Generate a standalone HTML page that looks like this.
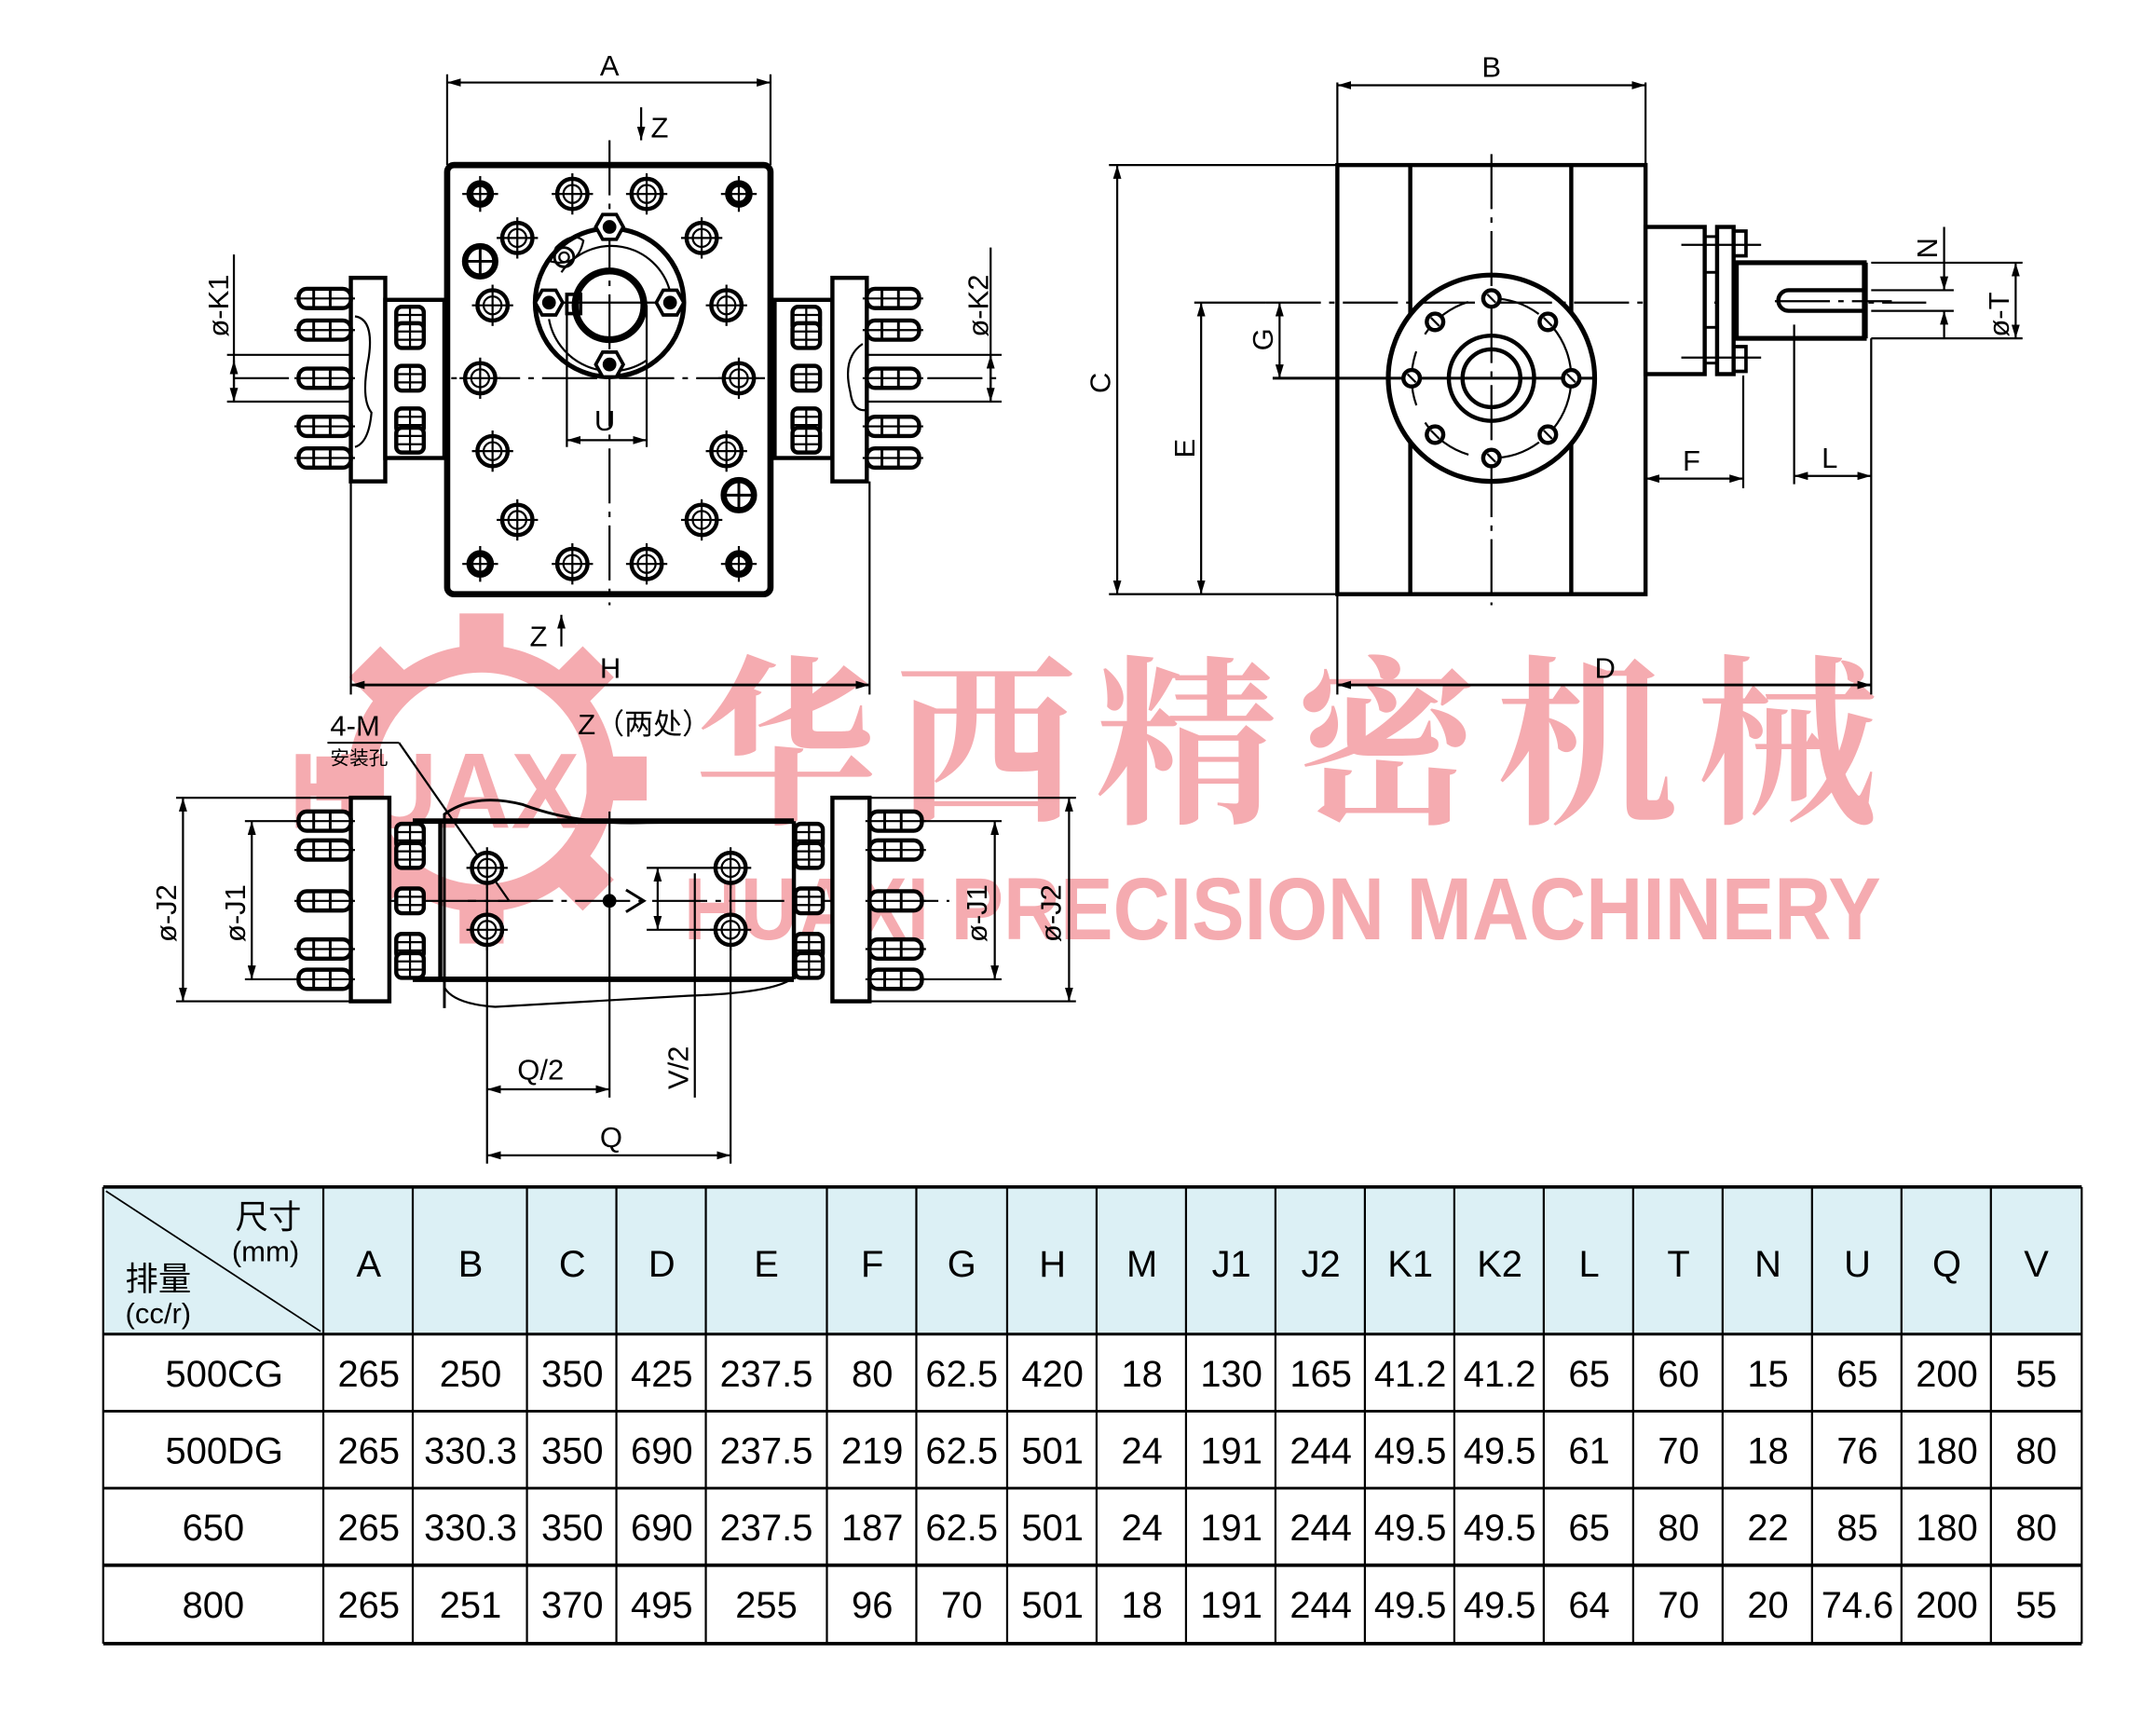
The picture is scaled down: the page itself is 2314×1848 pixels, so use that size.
<!DOCTYPE html>
<html><head><meta charset="utf-8"><style>
html,body{margin:0;padding:0;background:#fff}
svg{display:block}
text{font-family:"Liberation Sans","Noto Sans CJK SC",sans-serif}
</style></head><body>
<svg width="2314" height="1848" viewBox="0 0 1567 1252" preserveAspectRatio="none" xmlns="http://www.w3.org/2000/svg">
<defs>
<marker id="ar" viewBox="0 0 10 6" refX="10" refY="3" markerWidth="10" markerHeight="6" orient="auto-start-reverse" markerUnits="userSpaceOnUse"><path d="M0,0 L10,3 L0,6z" fill="#000"/></marker>
<g id="bh"><rect x="-19" y="-7" width="38" height="14" rx="6" fill="#fff" stroke="#000" stroke-width="3"/><line x1="-8" y1="-7" x2="-8" y2="7" stroke="#000" stroke-width="2"/><line x1="4" y1="-7" x2="4" y2="7" stroke="#000" stroke-width="2"/><line x1="-22" y1="0" x2="22" y2="0" stroke="#000" stroke-width="1.5"/></g>
<g id="sb"><rect x="-10" y="-9" width="20" height="18" rx="4" fill="#fff" stroke="#000" stroke-width="3"/><line x1="-10" y1="-3" x2="10" y2="-3" stroke="#000" stroke-width="1.5"/><line x1="-10" y1="3" x2="10" y2="3" stroke="#000" stroke-width="1.5"/><line x1="0" y1="-9" x2="0" y2="9" stroke="#000" stroke-width="1.5"/></g>
<g id="bt"><circle r="11" fill="#fff" stroke="#000" stroke-width="3"/><circle r="6.5" fill="none" stroke="#000" stroke-width="1.5"/><line x1="-15" y1="0" x2="15" y2="0" stroke="#000" stroke-width="1.5"/><line x1="0" y1="-15" x2="0" y2="15" stroke="#000" stroke-width="1.5"/></g>
<g id="bf"><circle r="10" fill="#000"/><circle r="5" fill="#fff"/><line x1="-13" y1="0" x2="13" y2="0" stroke="#000" stroke-width="1.5"/><line x1="0" y1="-13" x2="0" y2="13" stroke="#000" stroke-width="1.5"/></g>
<g id="bk"><circle r="11" fill="#fff" stroke="#000" stroke-width="4.5"/><line x1="-11" y1="0" x2="11" y2="0" stroke="#000" stroke-width="2"/><line x1="0" y1="-11" x2="0" y2="11" stroke="#000" stroke-width="2"/></g>
<g id="hx"><polygon points="-10,0 -5,-9 5,-9 10,0 5,9 -5,9" fill="#fff" stroke="#000" stroke-width="2.5"/><circle r="5" fill="#000"/></g>
<g id="sh"><circle r="6" fill="#fff" stroke="#000" stroke-width="3"/><line x1="-3" y1="-3" x2="3" y2="3" stroke="#000" stroke-width="1.5"/></g>
</defs>

<!-- ===== watermark ===== -->
<g fill="#f4a3a8" opacity="0.9">
  <g transform="translate(350,566)">
    <circle r="87" fill="none" stroke="#f4a3a8" stroke-width="20"/>
    <g>
      <rect x="-16" y="-120" width="32" height="30"/>
      <rect x="-16" y="-120" width="32" height="30" transform="rotate(45)"/>
      <rect x="-16" y="-120" width="32" height="30" transform="rotate(90)"/>
      <rect x="-16" y="-120" width="32" height="30" transform="rotate(135)"/>
      <rect x="-16" y="-120" width="32" height="30" transform="rotate(180)"/>
      <rect x="-16" y="-120" width="32" height="30" transform="rotate(225)"/>
      <rect x="-16" y="-120" width="32" height="30" transform="rotate(270)"/>
      <rect x="-16" y="-120" width="32" height="30" transform="rotate(315)"/>
    </g>
  </g>
  <text x="210" y="602" font-size="78" font-weight="bold" textLength="232" lengthAdjust="spacingAndGlyphs">HUAXI</text>
  <text x="505" y="588" font-size="132" font-weight="bold" textLength="860" lengthAdjust="spacing" style="font-family:'Noto Serif CJK SC',serif">华西精密机械</text>
  <text x="497" y="683" font-size="64" font-weight="bold" textLength="870" lengthAdjust="spacingAndGlyphs">HUAXI PRECISION MACHINERY</text>
</g>

<g stroke="#000" fill="none" stroke-width="1.5">
<!-- ===== FRONT VIEW ===== -->
<rect x="325" y="120" width="235" height="312" rx="5" stroke-width="4.5" fill="none"/>
<line x1="443" y1="102" x2="443" y2="440" stroke-dasharray="40,6,4,6"/>
<line x1="170" y1="275" x2="725" y2="275" stroke-dasharray="40,6,4,6"/>
<line x1="325" y1="54" x2="325" y2="120"/><line x1="560" y1="54" x2="560" y2="120"/>
<line x1="325" y1="60" x2="560" y2="60" marker-start="url(#ar)" marker-end="url(#ar)"/>
<line x1="466" y1="78" x2="466" y2="102" marker-end="url(#ar)"/>
<line x1="408" y1="470" x2="408" y2="447" marker-end="url(#ar)"/>
<circle cx="443" cy="220" r="54" stroke-width="3.5"/>
<path d="M408,198 A44,44 0 0 1 487,212" stroke-width="1.5"/>
<path d="M399,232 A46,46 0 0 0 470,262" stroke-width="1.5"/>
<circle cx="443" cy="222" r="25" stroke-width="5"/>
<path d="M400,190 Q420,195 424,175 Q416,168 404,180 Z" stroke-width="1.5"/>
<circle cx="410" cy="187" r="7" stroke-width="2"/><circle cx="410" cy="187" r="3.5" stroke-width="1.5"/>
<rect x="412" y="214" width="10" height="14" stroke-width="2.5"/>
<line x1="412" y1="222" x2="412" y2="325"/><line x1="470" y1="222" x2="470" y2="325"/>
<line x1="412" y1="320" x2="470" y2="320" marker-start="url(#ar)" marker-end="url(#ar)"/>
<line x1="395" y1="220" x2="492" y2="220"/>
<line x1="255" y1="350" x2="255" y2="505"/><line x1="632" y1="350" x2="632" y2="505"/>
<line x1="255" y1="498" x2="632" y2="498" marker-start="url(#ar)" marker-end="url(#ar)" stroke-width="2"/>
<line x1="165" y1="258" x2="260" y2="258"/><line x1="165" y1="292" x2="260" y2="292"/>
<line x1="170" y1="185" x2="170" y2="292"/>
<line x1="170" y1="262" x2="170" y2="292" marker-start="url(#ar)" marker-end="url(#ar)"/>
<line x1="628" y1="258" x2="728" y2="258"/><line x1="628" y1="292" x2="728" y2="292"/>
<line x1="720" y1="180" x2="720" y2="292"/>
<line x1="720" y1="258" x2="720" y2="292" marker-start="url(#ar)" marker-end="url(#ar)"/>
<rect x="255" y="202" width="25" height="148" stroke-width="3" fill="#fff"/>
<rect x="280" y="218" width="43" height="115" stroke-width="3" fill="#fff"/>
<rect x="563" y="218" width="42" height="115" stroke-width="3" fill="#fff"/>
<rect x="605" y="202" width="25" height="148" stroke-width="3" fill="#fff"/>
<path d="M258,230 Q272,232 268,260 Q262,290 270,300 Q268,322 258,325"/>
<path d="M627,250 Q612,260 618,285 Q620,300 630,298"/>
</g>
<g>
<use href="#bh" x="236" y="217"/><use href="#bh" x="236" y="240"/><use href="#bh" x="236" y="275"/><use href="#bh" x="236" y="310"/><use href="#bh" x="236" y="333"/>
<use href="#bh" x="649" y="217"/><use href="#bh" x="649" y="240"/><use href="#bh" x="649" y="275"/><use href="#bh" x="649" y="310"/><use href="#bh" x="649" y="333"/>
<use href="#sb" x="298" y="232"/><use href="#sb" x="298" y="244"/><use href="#sb" x="298" y="275"/><use href="#sb" x="298" y="306"/><use href="#sb" x="298" y="320"/>
<use href="#sb" x="586" y="232"/><use href="#sb" x="586" y="244"/><use href="#sb" x="586" y="275"/><use href="#sb" x="586" y="306"/><use href="#sb" x="586" y="320"/>
<use href="#bf" x="349" y="141"/><use href="#bt" x="416" y="141"/><use href="#bt" x="470" y="141"/><use href="#bf" x="537" y="141"/>
<use href="#bt" x="376" y="173"/><use href="#bt" x="510" y="173"/>
<use href="#bk" x="349" y="190"/>
<use href="#bt" x="358" y="222"/><use href="#bt" x="528" y="222"/>
<use href="#bt" x="349" y="275"/><use href="#bt" x="537" y="275"/>
<use href="#bt" x="358" y="328"/><use href="#bt" x="528" y="328"/>
<use href="#bk" x="537" y="360"/>
<use href="#bt" x="376" y="378"/><use href="#bt" x="510" y="378"/>
<use href="#bf" x="349" y="410"/><use href="#bt" x="416" y="410"/><use href="#bt" x="470" y="410"/><use href="#bf" x="537" y="410"/>
<use href="#hx" x="443" y="165"/><use href="#hx" x="399" y="220"/><use href="#hx" x="487" y="220"/><use href="#hx" x="443" y="265"/>
</g>

<!-- ===== SIDE VIEW ===== -->
<g stroke="#000" fill="none" stroke-width="1.5">
<rect x="972" y="120" width="224" height="312" stroke-width="3"/>
<line x1="1025" y1="120" x2="1025" y2="432" stroke-width="3"/>
<line x1="1142" y1="120" x2="1142" y2="432" stroke-width="3"/>
<circle cx="1084" cy="275" r="75" stroke-width="3.5" fill="#fff"/>
<circle cx="1084" cy="275" r="58" stroke-dasharray="40,14"/>
<circle cx="1084" cy="275" r="31" stroke-width="3"/>
<circle cx="1084" cy="275" r="21" stroke-width="3"/>
<line x1="1084" y1="112" x2="1084" y2="440" stroke-dasharray="40,6,4,6"/>
<line x1="920" y1="220" x2="1400" y2="220" stroke-dasharray="40,6,4,6"/>
<line x1="925" y1="275" x2="1160" y2="275" stroke-width="2"/>
<rect x="1196" y="165" width="43" height="107" stroke-width="3" fill="#fff"/>
<rect x="1248" y="165" width="12" height="107" stroke-width="3" fill="#fff"/>
<rect x="1239" y="172" width="9" height="26" stroke-width="2"/>
<rect x="1239" y="238" width="9" height="26" stroke-width="2"/>
<rect x="1260" y="168" width="9" height="18" stroke-width="2.5"/>
<rect x="1260" y="252" width="9" height="18" stroke-width="2.5"/>
<line x1="1222" y1="178" x2="1280" y2="178"/><line x1="1222" y1="260" x2="1280" y2="260"/>
<rect x="1262" y="191" width="93" height="55" stroke-width="3.5" fill="#fff"/>
<line x1="1356" y1="191" x2="1356" y2="246" stroke-width="3"/>
<path d="M1356,211 L1300,211 A7.5,7.5 0 0 0 1300,226 L1356,226" stroke-width="3"/>
<line x1="1290" y1="219" x2="1375" y2="219" stroke-dasharray="40,6,4,6"/>
<line x1="806" y1="120" x2="972" y2="120"/><line x1="806" y1="432" x2="972" y2="432"/>
<line x1="812" y1="120" x2="812" y2="432" marker-start="url(#ar)" marker-end="url(#ar)"/>
<line x1="868" y1="220" x2="920" y2="220"/>
<line x1="873" y1="220" x2="873" y2="432" marker-start="url(#ar)" marker-end="url(#ar)"/>
<line x1="925" y1="275" x2="930" y2="275"/>
<line x1="930" y1="220" x2="930" y2="275" marker-start="url(#ar)" marker-end="url(#ar)"/>
<line x1="1267" y1="273" x2="1267" y2="355"/>
<line x1="1196" y1="348" x2="1267" y2="348" marker-start="url(#ar)" marker-end="url(#ar)"/>
<line x1="1304" y1="236" x2="1304" y2="352"/><line x1="1360" y1="246" x2="1360" y2="505"/>
<line x1="1304" y1="346" x2="1360" y2="346" marker-start="url(#ar)" marker-end="url(#ar)"/>
<line x1="972" y1="432" x2="972" y2="505"/>
<line x1="972" y1="498" x2="1360" y2="498" marker-start="url(#ar)" marker-end="url(#ar)" stroke-width="2"/>
<line x1="972" y1="60" x2="972" y2="120"/><line x1="1196" y1="60" x2="1196" y2="120"/>
<line x1="972" y1="62" x2="1196" y2="62" marker-start="url(#ar)" marker-end="url(#ar)"/>
<line x1="1360" y1="191" x2="1470" y2="191"/><line x1="1360" y1="246" x2="1470" y2="246"/>
<line x1="1360" y1="211" x2="1420" y2="211"/><line x1="1360" y1="226" x2="1420" y2="226"/>
<line x1="1413" y1="165" x2="1413" y2="211" marker-end="url(#ar)"/>
<line x1="1413" y1="246" x2="1413" y2="226" marker-end="url(#ar)"/>
<line x1="1465" y1="191" x2="1465" y2="246" marker-start="url(#ar)" marker-end="url(#ar)"/>
</g>
<g>
<use href="#sh" x="1084" y="217"/><use href="#sh" x="1084" y="333"/><use href="#sh" x="1026" y="275"/><use href="#sh" x="1142" y="275"/>
<use href="#sh" x="1043" y="234"/><use href="#sh" x="1125" y="234"/><use href="#sh" x="1043" y="316"/><use href="#sh" x="1125" y="316"/>
</g>

<!-- ===== BOTTOM VIEW ===== -->
<g stroke="#000" fill="none" stroke-width="1.5">
<path d="M323,733 L323,592 Q345,576 380,585 Q420,600 470,598 L577,597" stroke-width="2"/>
<path d="M323,718 Q330,730 360,732 Q430,728 500,724 Q560,722 575,712"/>
<line x1="300" y1="597" x2="577" y2="597" stroke-width="4"/>
<line x1="300" y1="712" x2="577" y2="712" stroke-width="4"/>
<line x1="577" y1="597" x2="577" y2="712" stroke-width="3"/>
<line x1="320" y1="597" x2="320" y2="712" stroke-width="3"/>
<line x1="250" y1="655" x2="690" y2="655" stroke-dasharray="40,6,4,6"/>
<line x1="443" y1="590" x2="443" y2="798"/>
<line x1="354" y1="640" x2="354" y2="846"/><line x1="531" y1="640" x2="531" y2="846"/>
<line x1="354" y1="792" x2="443" y2="792" marker-start="url(#ar)" marker-end="url(#ar)"/>
<line x1="354" y1="840" x2="531" y2="840" marker-start="url(#ar)" marker-end="url(#ar)"/>
<line x1="505" y1="635" x2="505" y2="798"/>
<line x1="470" y1="631" x2="540" y2="631"/><line x1="470" y1="676" x2="540" y2="676"/>
<line x1="478" y1="631" x2="478" y2="676" marker-start="url(#ar)" marker-end="url(#ar)"/>
<path d="M455,647 L468,655 L455,663" stroke-width="2"/>
<line x1="238" y1="540" x2="290" y2="540"/>
<line x1="290" y1="540" x2="370" y2="655"/>
<line x1="340" y1="655" x2="370" y2="655"/>
<line x1="128" y1="580" x2="255" y2="580"/><line x1="128" y1="728" x2="255" y2="728"/>
<line x1="133" y1="580" x2="133" y2="728" marker-start="url(#ar)" marker-end="url(#ar)"/>
<line x1="178" y1="597" x2="255" y2="597"/><line x1="178" y1="712" x2="255" y2="712"/>
<line x1="183" y1="597" x2="183" y2="712" marker-start="url(#ar)" marker-end="url(#ar)"/>
<line x1="632" y1="580" x2="782" y2="580"/><line x1="632" y1="728" x2="782" y2="728"/>
<line x1="777" y1="580" x2="777" y2="728" marker-start="url(#ar)" marker-end="url(#ar)"/>
<line x1="632" y1="597" x2="728" y2="597"/><line x1="632" y1="712" x2="728" y2="712"/>
<line x1="723" y1="597" x2="723" y2="712" marker-start="url(#ar)" marker-end="url(#ar)"/>
<rect x="255" y="580" width="28" height="148" stroke-width="3" fill="#fff"/>
<rect x="605" y="580" width="27" height="148" stroke-width="3" fill="#fff"/>
</g>
<g>
<use href="#bh" x="236" y="597"/><use href="#bh" x="236" y="618"/><use href="#bh" x="236" y="655"/><use href="#bh" x="236" y="690"/><use href="#bh" x="236" y="712"/>
<use href="#bh" x="651" y="597"/><use href="#bh" x="651" y="618"/><use href="#bh" x="651" y="655"/><use href="#bh" x="651" y="690"/><use href="#bh" x="651" y="712"/>
<use href="#sb" x="298" y="608"/><use href="#sb" x="298" y="622"/><use href="#sb" x="298" y="655"/><use href="#sb" x="298" y="688"/><use href="#sb" x="298" y="702"/>
<use href="#sb" x="588" y="608"/><use href="#sb" x="588" y="622"/><use href="#sb" x="588" y="655"/><use href="#sb" x="588" y="688"/><use href="#sb" x="588" y="702"/>
<use href="#bt" x="354" y="631"/><use href="#bt" x="354" y="676"/><use href="#bt" x="531" y="631"/><use href="#bt" x="531" y="676"/>
<circle cx="443" cy="655" r="5" fill="#000"/>
</g>

<!-- ===== drawing labels ===== -->
<g font-size="21" fill="#000">
<text x="436" y="55">A</text>
<text x="473" y="100">Z</text>
<text x="385" y="470">Z</text>
<text x="436" y="493">H</text>
<text x="432" y="313">U</text>
<text x="1077" y="56">B</text>
<text x="1159" y="493">D</text>
<text x="1223" y="342">F</text>
<text x="1324" y="340">L</text>
<text x="420" y="534">Z（两处）</text>
<text x="240" y="535">4-M</text>
<text x="240" y="556" font-size="14">安装孔</text>
<text x="376" y="785">Q/2</text>
<text x="436" y="834">Q</text>
<g transform="rotate(-90)">
<text x="-245" y="166">ø-K1</text>
<text x="-245" y="718">ø-K2</text>
<text x="-286" y="807">C</text>
<text x="-333" y="868">E</text>
<text x="-255" y="925">G</text>
<text x="-188" y="1408">N</text>
<text x="-245" y="1460">ø-T</text>
<text x="-685" y="128">ø-J2</text>
<text x="-685" y="178">ø-J1</text>
<text x="-685" y="717">ø-J1</text>
<text x="-685" y="771">ø-J2</text>
<text x="-792" y="500">V/2</text>
</g>
</g>

<!-- ===== TABLE ===== -->
<rect x="75" y="863" width="1438" height="107" fill="#dcf0f5"/>
<g stroke="#000" stroke-width="1.5">
<line x1="75" y1="863" x2="1513" y2="863" stroke-width="2.5"/>
<line x1="75" y1="970" x2="1513" y2="970" stroke-width="2"/>
<line x1="75" y1="1026" x2="1513" y2="1026" stroke-width="2"/>
<line x1="75" y1="1082" x2="1513" y2="1082" stroke-width="2"/>
<line x1="75" y1="1138" x2="1513" y2="1138" stroke-width="2.5"/>
<line x1="75" y1="1195" x2="1513" y2="1195" stroke-width="2.5"/>
<line x1="75" y1="863" x2="75" y2="1195"/>
<line x1="1513" y1="863" x2="1513" y2="1195"/>
<line x1="235" y1="863" x2="235" y2="1195"/><line x1="300" y1="863" x2="300" y2="1195"/><line x1="383" y1="863" x2="383" y2="1195"/><line x1="448" y1="863" x2="448" y2="1195"/><line x1="513" y1="863" x2="513" y2="1195"/><line x1="601" y1="863" x2="601" y2="1195"/><line x1="666" y1="863" x2="666" y2="1195"/><line x1="732" y1="863" x2="732" y2="1195"/><line x1="797" y1="863" x2="797" y2="1195"/><line x1="862" y1="863" x2="862" y2="1195"/><line x1="927" y1="863" x2="927" y2="1195"/><line x1="992" y1="863" x2="992" y2="1195"/><line x1="1057" y1="863" x2="1057" y2="1195"/><line x1="1122" y1="863" x2="1122" y2="1195"/><line x1="1187" y1="863" x2="1187" y2="1195"/><line x1="1252" y1="863" x2="1252" y2="1195"/><line x1="1317" y1="863" x2="1317" y2="1195"/><line x1="1382" y1="863" x2="1382" y2="1195"/><line x1="1447" y1="863" x2="1447" y2="1195"/>
<line x1="77" y1="866" x2="233" y2="968" stroke-width="1.2"/>
</g>
<g font-size="27" fill="#000" text-anchor="middle">
<text x="195" y="893" font-size="24">尺寸</text>
<text x="193" y="917" font-size="21">(mm)</text>
<text x="115" y="938" font-size="24">排量</text>
<text x="115" y="962" font-size="21">(cc/r)</text>
<text x="268" y="928">A</text><text x="342" y="928">B</text><text x="416" y="928">C</text><text x="481" y="928">D</text><text x="557" y="928">E</text><text x="634" y="928">F</text><text x="699" y="928">G</text><text x="765" y="928">H</text><text x="830" y="928">M</text><text x="895" y="928">J1</text><text x="960" y="928">J2</text><text x="1025" y="928">K1</text><text x="1090" y="928">K2</text><text x="1155" y="928">L</text><text x="1220" y="928">T</text><text x="1285" y="928">N</text><text x="1350" y="928">U</text><text x="1415" y="928">Q</text><text x="1480" y="928">V</text>
</g>
<g font-size="27" fill="#000" text-anchor="middle">
<g transform="translate(0,1008)">
<text x="163">500CG</text><text x="268">265</text><text x="342">250</text><text x="416">350</text><text x="481">425</text><text x="557">237.5</text><text x="634">80</text><text x="699">62.5</text><text x="765">420</text><text x="830">18</text><text x="895">130</text><text x="960">165</text><text x="1025">41.2</text><text x="1090">41.2</text><text x="1155">65</text><text x="1220">60</text><text x="1285">15</text><text x="1350">65</text><text x="1415">200</text><text x="1480">55</text>
</g>
<g transform="translate(0,1064)">
<text x="163">500DG</text><text x="268">265</text><text x="342">330.3</text><text x="416">350</text><text x="481">690</text><text x="557">237.5</text><text x="634">219</text><text x="699">62.5</text><text x="765">501</text><text x="830">24</text><text x="895">191</text><text x="960">244</text><text x="1025">49.5</text><text x="1090">49.5</text><text x="1155">61</text><text x="1220">70</text><text x="1285">18</text><text x="1350">76</text><text x="1415">180</text><text x="1480">80</text>
</g>
<g transform="translate(0,1120)">
<text x="155">650</text><text x="268">265</text><text x="342">330.3</text><text x="416">350</text><text x="481">690</text><text x="557">237.5</text><text x="634">187</text><text x="699">62.5</text><text x="765">501</text><text x="830">24</text><text x="895">191</text><text x="960">244</text><text x="1025">49.5</text><text x="1090">49.5</text><text x="1155">65</text><text x="1220">80</text><text x="1285">22</text><text x="1350">85</text><text x="1415">180</text><text x="1480">80</text>
</g>
<g transform="translate(0,1176)">
<text x="155">800</text><text x="268">265</text><text x="342">251</text><text x="416">370</text><text x="481">495</text><text x="557">255</text><text x="634">96</text><text x="699">70</text><text x="765">501</text><text x="830">18</text><text x="895">191</text><text x="960">244</text><text x="1025">49.5</text><text x="1090">49.5</text><text x="1155">64</text><text x="1220">70</text><text x="1285">20</text><text x="1350">74.6</text><text x="1415">200</text><text x="1480">55</text>
</g>
</g>
</svg>
</body></html>
